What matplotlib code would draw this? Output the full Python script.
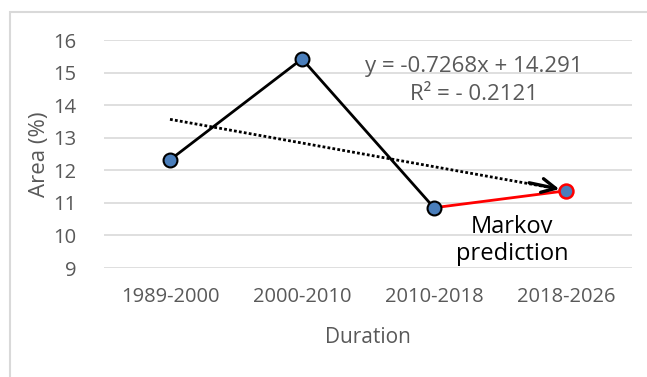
import matplotlib.pyplot as plt
import numpy as np
from matplotlib.patches import Rectangle

plt.rcParams['font.family'] = ['Open Sans', 'DejaVu Sans']

# Data
durations = ['1989-2000', '2000-2010', '2010-2018', '2018-2026']
area = [12.32, 15.42, 10.85, 11.37]
trend_slope = -0.7268
trend_intercept = 14.291
r2_label = 'R² = - 0.2121'
yticks = [9, 10, 11, 12, 13, 14, 15, 16]

grey = '#595959'

fig = plt.figure(figsize=(6.47, 3.77), dpi=100)
fig.patches.append(Rectangle((10 / 647, -0.1), 1.1, (377 - 12) / 377 + 0.1,
                             transform=fig.transFigure, fill=False,
                             edgecolor='#d9d9d9', lw=1.5))
ax = fig.add_axes([104 / 647, (377 - 268) / 377, 528 / 647, 228 / 377])

x = np.arange(len(durations))

# observed series (black) and Markov prediction segment (red)
ax.plot(x[:3], area[:3], color='black', lw=2, zorder=3)
ax.plot(x[2:], area[2:], color='red', lw=2, zorder=3)
ax.plot(x[:3], area[:3], 'o', ms=10, mfc='#4a7ebb', mec='black', mew=1.5, zorder=4)
ax.plot(x[3], area[3], 'o', ms=10, mfc='#4a7ebb', mec='red', mew=1.8, zorder=4)

# linear trend line (dotted) with arrowhead
tx = x + 1
ty = trend_slope * tx + trend_intercept
ax.plot(x, ty, color='black', lw=2, ls=(0, (1, 0.8)), zorder=2)
ax.annotate('', xy=(x[-1] - 0.03, ty[-1] + 0.02),
            xytext=(x[-1] - 0.3, ty[-1] + 0.25),
            arrowprops=dict(arrowstyle='->,head_length=1.0,head_width=0.5',
                            color='black', lw=2.4), zorder=5)

ax.text(2.3, 15.2, 'y = -0.7268x + 14.291', ha='center', va='center',
        fontsize=16, color=grey)
ax.text(2.3, 14.32, r2_label, ha='center', va='center', fontsize=16, color=grey)
ax.text(2.59, 9.85, 'Markov\nprediction', ha='center', va='center',
        fontsize=17, color='black', linespacing=1.2)

ax.set_xlim(-0.5, 3.5)
ax.set_ylim(9, 16)
ax.set_yticks(yticks)
ax.set_xticks(x)
ax.set_xticklabels(durations)
ax.grid(True, axis='y', color='#d9d9d9', lw=1.2)
ax.set_axisbelow(True)
for s in ax.spines.values():
    s.set_visible(False)
ax.tick_params(length=0, labelsize=14.5, colors=grey, pad=14)
ax.tick_params(axis='y', pad=20)

ax.set_ylabel('Area (%)', fontsize=16, color=grey, labelpad=2)
ax.set_xlabel('Duration', fontsize=15, color=grey, labelpad=14)

fig.savefig('out.png', dpi=100)
